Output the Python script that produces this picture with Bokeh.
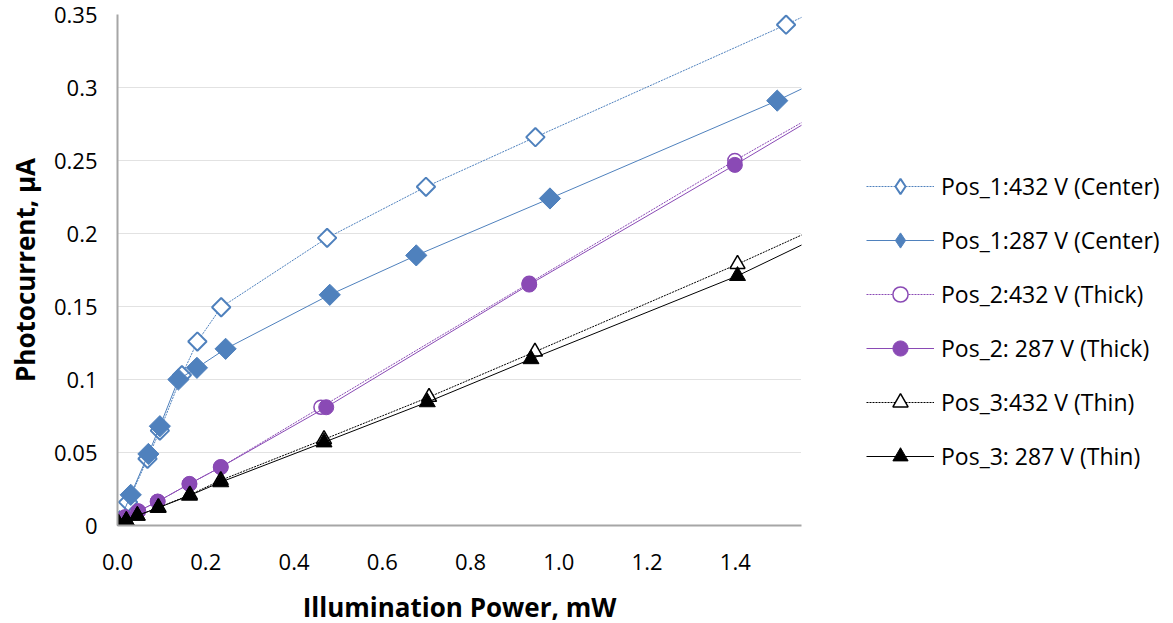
from bokeh.plotting import figure
from bokeh.models import Range1d, FixedTicker, Legend, LegendItem
from bokeh.core.properties import value
from bokeh.embed import file_html
from bokeh.resources import INLINE

# ---- data ----
x_ticks = [0.0, 0.2, 0.4, 0.6, 0.8, 1.0, 1.2, 1.4]
x_tick_labels = ["0.0", "0.2", "0.4", "0.6", "0.8", "1.0", "1.2", "1.4"]
y_ticks = [0.0, 0.05, 0.1, 0.15, 0.2, 0.25, 0.3, 0.35]
y_tick_labels = ["0", "0.05", "0.1", "0.15", "0.2", "0.25", "0.3", "0.35"]

pos1_432_x = [0.0, 0.005, 0.024, 0.068, 0.096, 0.146, 0.181, 0.235, 0.475, 0.699, 0.947, 1.515, 1.90]
pos1_432_y = [0.0, 0.003, 0.016, 0.0457, 0.065, 0.103, 0.126, 0.1495, 0.197, 0.232, 0.266, 0.343, 0.398]

pos1_287_x = [0.0, 0.005, 0.030, 0.070, 0.096, 0.138, 0.180, 0.245, 0.481, 0.677, 0.980, 1.495, 1.90]
pos1_287_y = [0.0, 0.003, 0.021, 0.049, 0.068, 0.100, 0.108, 0.121, 0.158, 0.185, 0.224, 0.291, 0.350]

pos2_432_x = [0.0, 0.017, 0.047, 0.091, 0.163, 0.234, 0.461, 0.933, 1.399, 1.90]
pos2_432_y = [0.0023, 0.0057, 0.0098, 0.0164, 0.0285, 0.040, 0.081, 0.166, 0.250, 0.336]

pos2_287_x = [0.0, 0.017, 0.047, 0.091, 0.163, 0.234, 0.473, 0.933, 1.399, 1.90]
pos2_287_y = [0.0023, 0.0057, 0.0098, 0.0164, 0.0285, 0.040, 0.081, 0.165, 0.247, 0.337]

pos3_432_x = [0.002, 0.020, 0.045, 0.093, 0.164, 0.234, 0.468, 0.706, 0.946, 1.405, 1.90]
pos3_432_y = [0.0016, 0.0034, 0.0068, 0.0123, 0.021, 0.031, 0.059, 0.088, 0.119, 0.179, 0.247]

pos3_287_x = [0.002, 0.020, 0.045, 0.092, 0.163, 0.234, 0.468, 0.702, 0.937, 1.405, 1.90]
pos3_287_y = [0.0016, 0.0034, 0.0068, 0.0121, 0.0205, 0.0297, 0.057, 0.0845, 0.114, 0.171, 0.243]

labels = ["Pos_1:432 V (Center)", "Pos_1:287 V (Center)", "Pos_2:432 V (Thick)",
          "Pos_2: 287 V (Thick)", "Pos_3:432 V (Thin)", "Pos_3: 287 V (Thin)"]

BLUE = "#4F81BD"
PURPLE = "#8A4AB5"
BLACK = "#000000"
FONT = "Open Sans"

p = figure(frame_width=684, frame_height=511,
           min_border_left=117, min_border_right=356,
           min_border_top=14, min_border_bottom=86,
           x_range=Range1d(0, 1.55), y_range=Range1d(0, 0.35),
           output_backend="svg", toolbar_location=None)
p.outline_line_color = None
p.background_fill_color = "white"
p.border_fill_color = "white"

p.xgrid.visible = False
p.ygrid.grid_line_color = "#c4c4c4"
p.ygrid.grid_line_dash = "1 1"
p.ygrid.grid_line_width = 1

for ax in (p.xaxis, p.yaxis):
    ax.axis_line_color = "#a6a6a6"
    ax.axis_line_width = 2
    ax.major_tick_out = 0
    ax.major_tick_in = 0
    ax.minor_tick_out = 0
    ax.minor_tick_in = 0
    ax.major_label_text_font = FONT
    ax.major_label_text_font_size = "22px"
    ax.major_label_text_color = "black"
    ax.axis_label_text_font = FONT
    ax.axis_label_text_font_size = "26px"
    ax.axis_label_text_font_style = "bold"
    ax.axis_label_text_color = "black"

p.xaxis.ticker = FixedTicker(ticks=x_ticks)
p.xaxis.major_label_overrides = dict(zip(x_ticks, x_tick_labels))
p.yaxis.ticker = FixedTicker(ticks=y_ticks)
p.yaxis.major_label_overrides = dict(zip(y_ticks, y_tick_labels))
p.xaxis.major_label_standoff = 28
p.yaxis.major_label_standoff = 20
p.xaxis.axis_label = "Illumination Power, mW"
p.yaxis.axis_label = "Photocurrent, μA"
p.xaxis.axis_label_standoff = 16
p.yaxis.axis_label_standoff = 8

items = []

def series(xs, ys, color, dash, marker, fill, size, lw_m, angle, label, legend_marker):
    lr = p.line(xs, ys, line_color=color, line_width=1, line_dash=dash)
    sr = p.scatter(xs, ys, marker=marker, size=size, angle=angle,
                   fill_color=fill, line_color=color, line_width=lw_m)
    if legend_marker is None:
        items.append(LegendItem(label=label, renderers=[lr, sr]))
    else:
        # hidden twin used only for the legend swatch (legend ignores marker angles)
        dr = p.scatter(xs, ys, marker=legend_marker, size=size, fill_color=fill,
                       line_color=color, line_width=lw_m, visible=False)
        items.append(LegendItem(label=label, renderers=[lr, dr]))

series(pos1_432_x, pos1_432_y, BLUE, "2 1", "square", "white", 13, 2, 0.785398, labels[0], "diamond")
series(pos1_287_x, pos1_287_y, BLUE, "solid", "square", BLUE, 15, 1, 0.785398, labels[1], "diamond")
series(pos2_432_x, pos2_432_y, PURPLE, "2 1", "circle", "white", 14, 1.5, 0.0, labels[2], None)
series(pos2_287_x, pos2_287_y, PURPLE, "solid", "circle", PURPLE, 15, 1, 0.0, labels[3], None)
series(pos3_432_x, pos3_432_y, BLACK, "2 1", "triangle", "white", 15, 1.5, 0.0, labels[4], None)
series(pos3_287_x, pos3_287_y, BLACK, "solid", "triangle", BLACK, 16, 1, 0.0, labels[5], None)

legend = Legend(items=items, location=(65, 50), orientation="vertical",
                glyph_width=68, glyph_height=38, label_standoff=7,
                spacing=16, padding=0, margin=0,
                border_line_color=None, background_fill_alpha=0,
                label_text_font=FONT, label_text_font_size="23px",
                label_text_color="black")
p.add_layout(legend, "right")

open("out.html", "w").write(file_html(p, INLINE))
